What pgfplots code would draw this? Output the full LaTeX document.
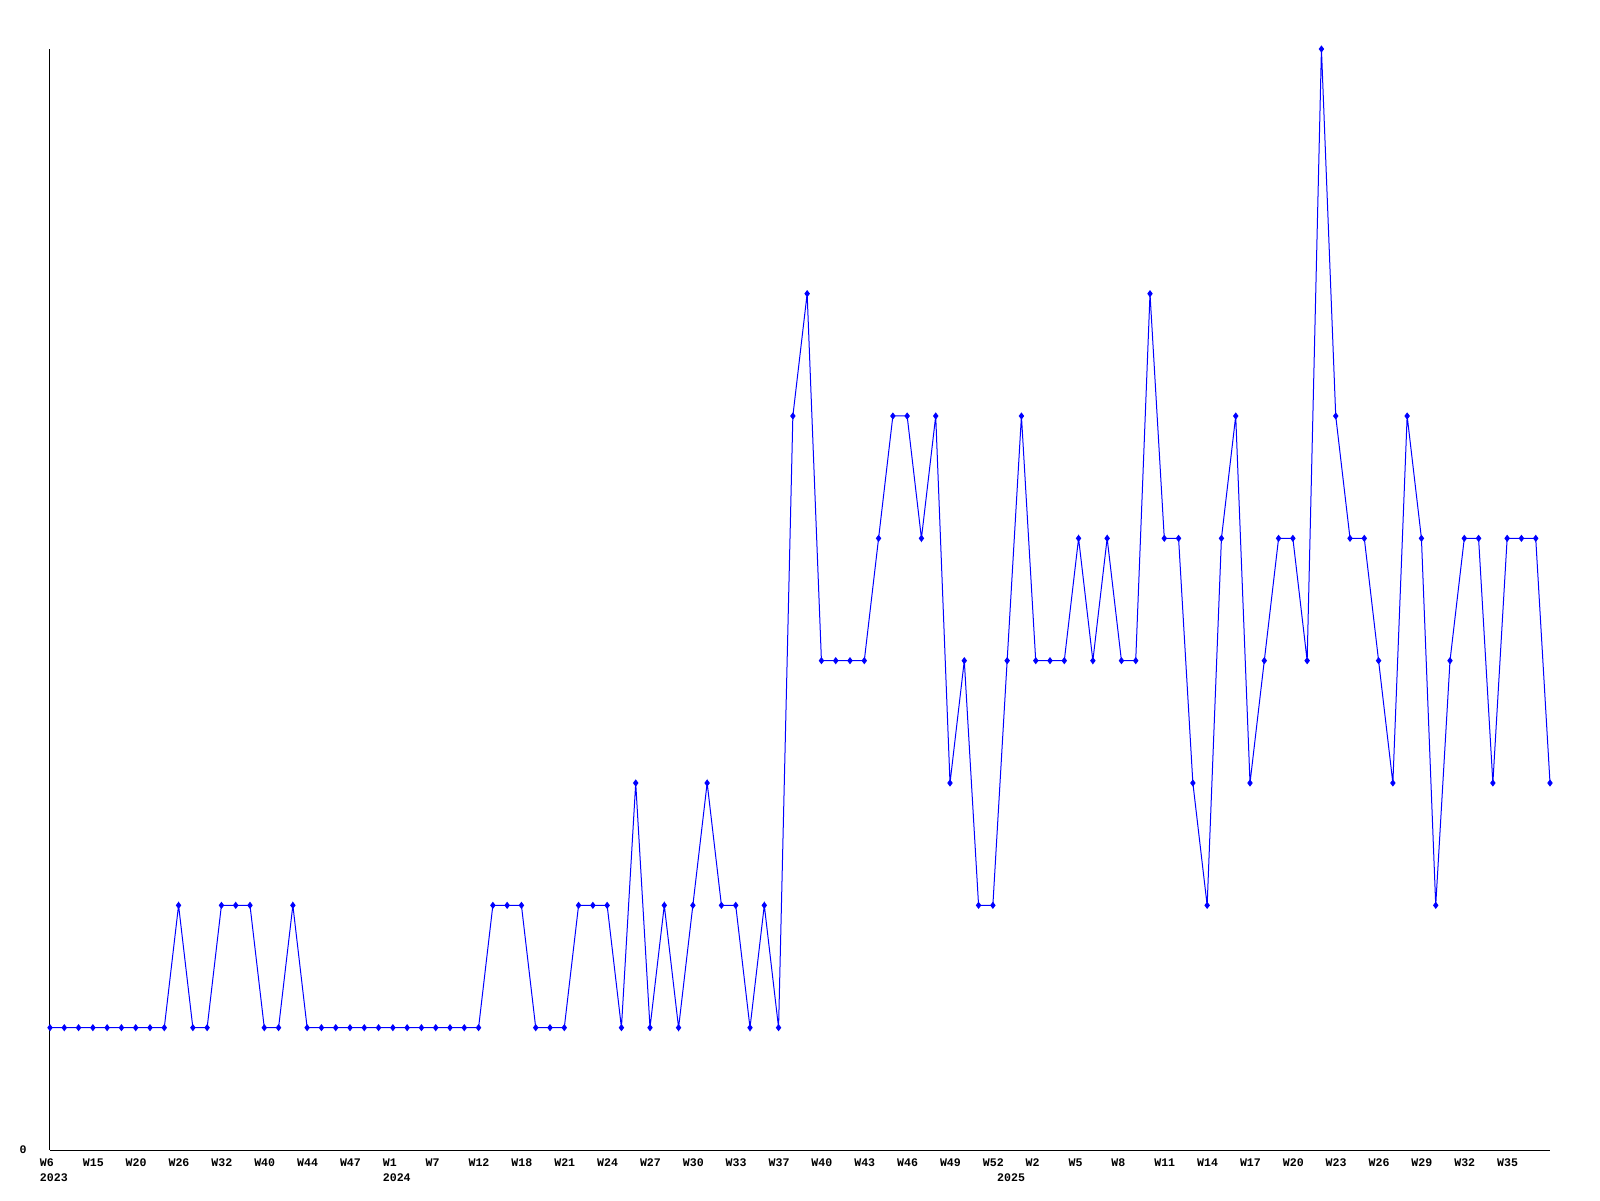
\documentclass[border=0pt]{standalone}
\usepackage{fontspec}
\setmonofont{Liberation Mono}
\usepackage{pgfplots}
\pgfplotsset{compat=1.18}

% weekly counts, one value per point
\pgfplotstableread{
idx val
0 1
1 1
2 1
3 1
4 1
5 1
6 1
7 1
8 1
9 2
10 1
11 1
12 2
13 2
14 2
15 1
16 1
17 2
18 1
19 1
20 1
21 1
22 1
23 1
24 1
25 1
26 1
27 1
28 1
29 1
30 1
31 2
32 2
33 2
34 1
35 1
36 1
37 2
38 2
39 2
40 1
41 3
42 1
43 2
44 1
45 2
46 3
47 2
48 2
49 1
50 2
51 1
52 6
53 7
54 4
55 4
56 4
57 4
58 5
59 6
60 6
61 5
62 6
63 3
64 4
65 2
66 2
67 4
68 6
69 4
70 4
71 4
72 5
73 4
74 5
75 4
76 4
77 7
78 5
79 5
80 3
81 2
82 5
83 6
84 3
85 4
86 5
87 5
88 4
89 9
90 6
91 5
92 5
93 4
94 3
95 6
96 5
97 2
98 4
99 5
100 5
101 3
102 5
103 5
104 5
105 3
}\weekly

\begin{document}
\begin{tikzpicture}
\useasboundingbox (-25pt,-25pt) rectangle (775pt,575pt);
\begin{axis}[
  at={(0pt,0pt)}, anchor=south west,
  scale only axis, width=750pt, height=550.5pt,
  xmin=0, xmax=105, ymin=0, ymax=9,
  axis x line*=bottom, axis y line*=left,
  axis line style={black, line width=0.5pt, -},
  clip=false,
  xtick={0,3,...,102},
  xticklabels={W6,W15,W20,W26,W32,W40,W44,W47,W1,W7,W12,W18,W21,W24,W27,W30,W33,W37,W40,W43,W46,W49,W52,W2,W5,W8,W11,W14,W17,W20,W23,W26,W29,W32,W35},
  ytick={0}, yticklabels={0},
  major tick length=0pt,
  tick label style={font=\ttfamily\bfseries\fontsize{5.8}{7}\selectfont, inner sep=0pt},
  xticklabel style={anchor=north west, xshift=-5.2pt, yshift=-4.2pt},
  yticklabel style={anchor=east, xshift=-11.5pt},
]
\addplot[blue, line width=0.5pt, mark=diamond*, mark size=1.4pt] table[x=idx, y=val] {\weekly};
\node[anchor=north west, inner sep=0pt, xshift=-5.2pt, yshift=-11.8pt, font=\ttfamily\bfseries\fontsize{5.8}{7}\selectfont] at (axis cs:0,0) {2023};
\node[anchor=north west, inner sep=0pt, xshift=-5.2pt, yshift=-11.8pt, font=\ttfamily\bfseries\fontsize{5.8}{7}\selectfont] at (axis cs:24,0) {2024};
\node[anchor=north west, inner sep=0pt, xshift=-5.2pt, yshift=-11.8pt, font=\ttfamily\bfseries\fontsize{5.8}{7}\selectfont] at (axis cs:67,0) {2025};
\end{axis}
\end{tikzpicture}
\end{document}
